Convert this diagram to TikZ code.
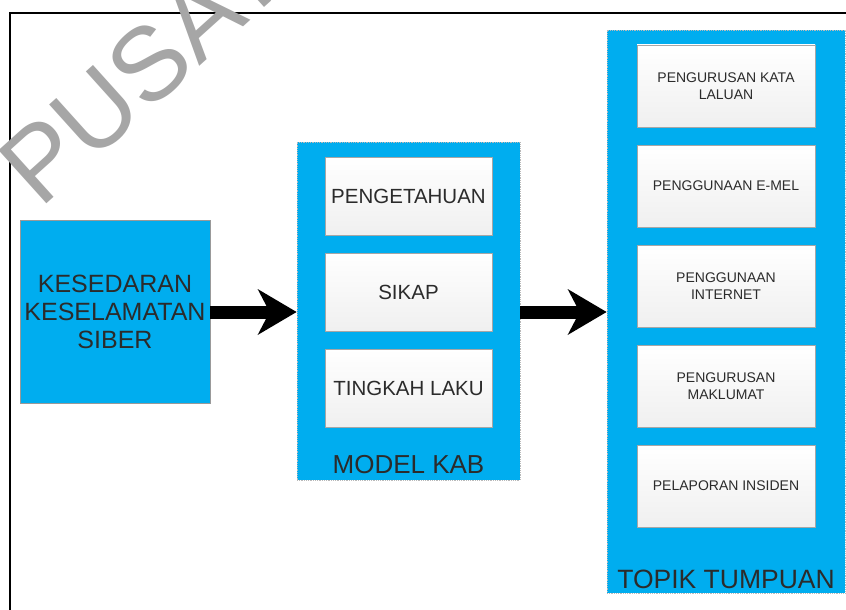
\documentclass[tikz,border=0pt]{standalone}
\usepackage{fontspec}
\setmainfont{Liberation Sans}
\usetikzlibrary{arrows.meta}

\definecolor{kabblue}{HTML}{00ADEF}
\definecolor{kabtext}{HTML}{2B2B2B}

\tikzset{
    blok/.style={draw=gray!70, line width=0.8pt, top color=white, bottom color=gray!12,
        text=kabtext, align=center, inner sep=2pt},
    bekas/.style={draw=gray!55, densely dotted, line width=0.8pt, fill=kabblue},
    anakpanah/.style={line width=13pt, -{Stealth[length=39pt, width=46pt, inset=12pt, line width=0pt]}}
}

\begin{document}
\begin{tikzpicture}[x=1pt, y=-1pt]
    \useasboundingbox (0,0) rectangle (846,610);
    \draw[line width=1.2pt] (846,13) -- (10,13) -- (10,610);
    \node[rotate=42, anchor=base west, text=gray!70, font=\fontsize{104}{104}\selectfont, inner sep=0pt] (cap) at (40,210) {PUSAT};

    \node[draw=gray!80, fill=kabblue, minimum width=190pt, minimum height=183pt, text=kabtext, align=center,
        font=\fontsize{25}{28}\selectfont] (kesedaran) at (115,311.5) {KESEDARAN\\KESELAMATAN\\SIBER};

    \node[bekas, minimum width=223pt, minimum height=338pt] (model) at (408.5,311) {};
    \node[blok, minimum width=167pt, minimum height=78pt, font=\fontsize{20.5}{24}\selectfont] (pengetahuan) at (408.5,196) {PENGETAHUAN};
    \node[blok, minimum width=167pt, minimum height=78pt, font=\fontsize{20.5}{24}\selectfont] (sikap) at (408.5,292) {SIKAP};
    \node[blok, minimum width=167pt, minimum height=78pt, font=\fontsize{20.5}{24}\selectfont] (tingkahlaku) at (408.5,388) {TINGKAH LAKU};
    \node[anchor=base, text=kabtext, font=\fontsize{26}{30}\selectfont] (modelkab) at (408.5,473) {MODEL KAB};

    \node[bekas, minimum width=238pt, minimum height=563pt] (topik) at (726,311.5) {};
    \node[blok, minimum width=178pt, minimum height=82pt, font=\fontsize{14}{17}\selectfont] (katalaluan) at (726,86) {PENGURUSAN KATA\\LALUAN};
    \node[blok, minimum width=178pt, minimum height=82pt, font=\fontsize{14}{17}\selectfont] (emel) at (726,186) {PENGGUNAAN E-MEL};
    \node[blok, minimum width=178pt, minimum height=82pt, font=\fontsize{14}{17}\selectfont] (internet) at (726,286) {PENGGUNAAN\\INTERNET};
    \node[blok, minimum width=178pt, minimum height=82pt, font=\fontsize{14}{17}\selectfont] (maklumat) at (726,386) {PENGURUSAN\\MAKLUMAT};
    \node[blok, minimum width=178pt, minimum height=82pt, font=\fontsize{14}{17}\selectfont] (insiden) at (726,486) {PELAPORAN INSIDEN};
    \node[anchor=base, text=kabtext, font=\fontsize{26.5}{30}\selectfont] (topiktumpuan) at (726,588) {TOPIK TUMPUAN};

    \draw[anakpanah] (kesedaran.east |- 0,312) -- (model.west |- 0,312);
    \draw[anakpanah] (model.east |- 0,312) -- (topik.west |- 0,312);
\end{tikzpicture}
\end{document}
